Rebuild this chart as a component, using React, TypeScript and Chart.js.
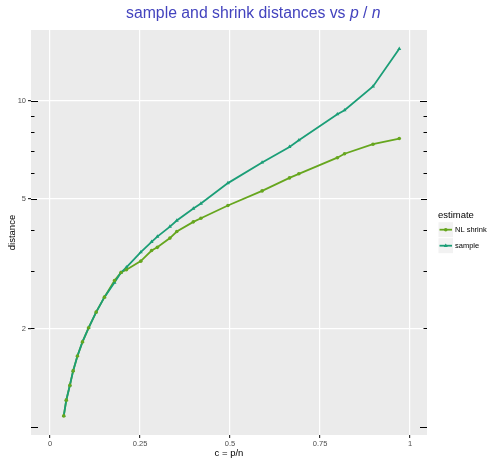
import React, { useEffect, useRef } from "react";
import { Chart, registerables } from "chart.js";
Chart.register(...registerables);

const cValues = [0.038, 0.045, 0.055, 0.064, 0.076, 0.09, 0.107, 0.128, 0.151, 0.179, 0.197, 0.212, 0.252, 0.282, 0.298, 0.333, 0.352, 0.398, 0.419, 0.494, 0.589, 0.665, 0.691, 0.798, 0.818, 0.897, 0.97];
const sampleDist = [1.078, 1.205, 1.339, 1.482, 1.647, 1.819, 2.009, 2.246, 2.496, 2.767, 2.97, 3.08, 3.43, 3.69, 3.83, 4.11, 4.29, 4.67, 4.84, 5.59, 6.47, 7.22, 7.57, 9.1, 9.36, 11.07, 14.45];
const shrinkDist = [1.078, 1.205, 1.339, 1.482, 1.647, 1.819, 2.009, 2.246, 2.496, 2.807, 2.97, 3.03, 3.22, 3.47, 3.55, 3.79, 3.97, 4.25, 4.36, 4.77, 5.29, 5.8, 5.97, 6.69, 6.88, 7.36, 7.66];

const xTicks = [0, 0.25, 0.5, 0.75, 1];
const xTickLabels = ["0", "0.25", "0.5", "0.75", "1"];
const yTicks = [2, 5, 10];
const yTickLabels = ["2", "5", "10"];
const logTickValues = [1, 2, 3, 4, 5, 6, 7, 8, 9, 10];
const seriesNames = ["NL shrink", "sample"];
const seriesColors = ["#66A61E", "#1B9E77"];
const seriesShapes = ["circle", "triangle"];

const FONT = "'Liberation Sans', Arial, sans-serif";

export default function App() {
  const ref = useRef<HTMLCanvasElement>(null);
  useEffect(() => {
    if (!ref.current) return;
    const bgPlugin = {
      id: "bg",
      beforeDraw(chart: any) {
        const { ctx, chartArea: a } = chart;
        ctx.save();
        ctx.fillStyle = "#FFFFFF";
        ctx.fillRect(0, 0, chart.width, chart.height);
        ctx.fillStyle = "#EBEBEB";
        ctx.fillRect(a.left, a.top, a.right - a.left, a.bottom - a.top);
        ctx.restore();
      },
    };
    const decoPlugin = {
      id: "deco",
      afterDraw(chart: any) {
        const { ctx, chartArea: a } = chart;
        const ys = chart.scales.y;
        ctx.save();
        // log ticks
        ctx.strokeStyle = "#000000";
        ctx.lineWidth = 1;
        logTickValues.forEach((v) => {
          const y = Math.round(ys.getPixelForValue(v)) + 0.5;
          const len = v === 1 || v === 10 ? 7 : v === 5 ? 6 : 3.5;
          ctx.beginPath();
          ctx.moveTo(a.left, y);
          ctx.lineTo(a.left + len, y);
          ctx.moveTo(a.right - len, y);
          ctx.lineTo(a.right, y);
          ctx.stroke();
        });
        // title
        ctx.fillStyle = "#4343BE";
        ctx.textBaseline = "alphabetic";
        ctx.textAlign = "left";
        let x = 126;
        const ty = 18;
        const parts: [string, boolean][] = [
          ["sample and shrink distances vs ", false],
          ["p", true],
          [" / ", false],
          ["n", true],
        ];
        parts.forEach(([t, it]) => {
          ctx.font = (it ? "italic " : "") + "15.8px " + FONT;
          ctx.fillText(t, x, ty);
          x += ctx.measureText(t).width;
        });
        // axis titles
        ctx.fillStyle = "#000000";
        ctx.font = "9.5px " + FONT;
        ctx.textAlign = "center";
        ctx.textBaseline = "middle";
        ctx.fillText("c = p/n", (a.left + a.right) / 2, 453.5);
        ctx.save();
        ctx.translate(12, (a.top + a.bottom) / 2);
        ctx.rotate(-Math.PI / 2);
        ctx.fillText("distance", 0, 0);
        ctx.restore();
        // legend
        ctx.textAlign = "left";
        ctx.font = "9.5px " + FONT;
        ctx.fillText("estimate", 438, 215.5);
        seriesNames.forEach((name, i) => {
          const cy = 229.7 + i * 16;
          ctx.fillStyle = "#F2F2F2";
          ctx.fillRect(438.5, cy - 7.5, 14.5, 15);
          ctx.strokeStyle = seriesColors[i];
          ctx.lineWidth = 1.8;
          ctx.beginPath();
          ctx.moveTo(439.5, cy);
          ctx.lineTo(452, cy);
          ctx.stroke();
          ctx.fillStyle = seriesColors[i];
          ctx.beginPath();
          if (seriesShapes[i] === "circle") {
            ctx.arc(445.75, cy, 1.8, 0, Math.PI * 2);
          } else {
            ctx.moveTo(445.75, cy - 2.3);
            ctx.lineTo(447.8, cy + 1.3);
            ctx.lineTo(443.7, cy + 1.3);
            ctx.closePath();
          }
          ctx.fill();
          ctx.fillStyle = "#000000";
          ctx.font = "7.5px " + FONT;
          ctx.textBaseline = "middle";
          ctx.fillText(name, 455, cy);
        });
        ctx.restore();
      },
    };

    const toPts = (vals: number[]) => cValues.map((c, i) => ({ x: c, y: vals[i] }));

    const chart = new Chart(ref.current, {
      type: "line",
      data: {
        datasets: [
          {
            label: seriesNames[0] + " points",
            data: toPts(shrinkDist),
            showLine: false,
            pointStyle: "circle",
            pointRadius: 1.8,
            pointBackgroundColor: seriesColors[0],
            pointBorderWidth: 0,
            order: 0,
          },
          {
            label: seriesNames[1],
            data: toPts(sampleDist),
            borderColor: seriesColors[1],
            borderWidth: 1.8,
            pointStyle: "triangle",
            pointRadius: 2.3,
            pointBackgroundColor: seriesColors[1],
            pointBorderColor: seriesColors[1],
            pointBorderWidth: 0,
            tension: 0,
            order: 1,
          },
          {
            label: seriesNames[0],
            data: toPts(shrinkDist),
            borderColor: seriesColors[0],
            borderWidth: 1.8,
            pointRadius: 0,
            tension: 0,
            order: 2,
          },
        ],
      },
      options: {
        responsive: false,
        animation: false,
        devicePixelRatio: 1,
        layout: { padding: { left: 0, right: 62, top: 30, bottom: 0 } },
        plugins: {
          legend: { display: false },
          title: { display: false },
          tooltip: { enabled: false },
        },
        scales: {
          x: {
            type: "linear",
            min: -0.053,
            max: 1.047,
            afterFit(scale: any) {
              scale.height = 24;
            },
            afterBuildTicks(scale: any) {
              scale.ticks = xTicks.map((v) => ({ value: v }));
            },
            ticks: {
              callback: (v: any) => {
                const i = xTicks.indexOf(Number(v));
                return i >= 0 ? xTickLabels[i] : "";
              },
              color: "#4D4D4D",
              font: { family: FONT, size: 7.5 },
              padding: 1,
              maxRotation: 0,
              autoSkip: false,
            },
            grid: { color: "#FFFFFF", lineWidth: 1.2, tickColor: "#333333", tickLength: 3 },
            border: { display: false },
          },
          y: {
            type: "logarithmic",
            min: 0.942,
            max: 16.5,
            afterFit(scale: any) {
              scale.width = 31;
            },
            afterBuildTicks(scale: any) {
              scale.ticks = yTicks.map((v) => ({ value: v }));
            },
            ticks: {
              callback: (v: any) => {
                const i = yTicks.indexOf(Number(v));
                return i >= 0 ? yTickLabels[i] : "";
              },
              color: "#4D4D4D",
              font: { family: FONT, size: 7.5 },
              padding: 2,
              autoSkip: false,
            },
            grid: { color: "#FFFFFF", lineWidth: 1.2, tickColor: "#333333", tickLength: 3 },
            border: { display: false },
          },
        },
      },
      plugins: [bgPlugin, decoPlugin],
    } as any);
    return () => chart.destroy();
  }, []);
  return (
    <div style={{ position: "fixed", left: 0, top: 0, width: 489, height: 459 }}>
      <canvas ref={ref} width={489} height={459} style={{ width: 489, height: 459 }} />
    </div>
  );
}
